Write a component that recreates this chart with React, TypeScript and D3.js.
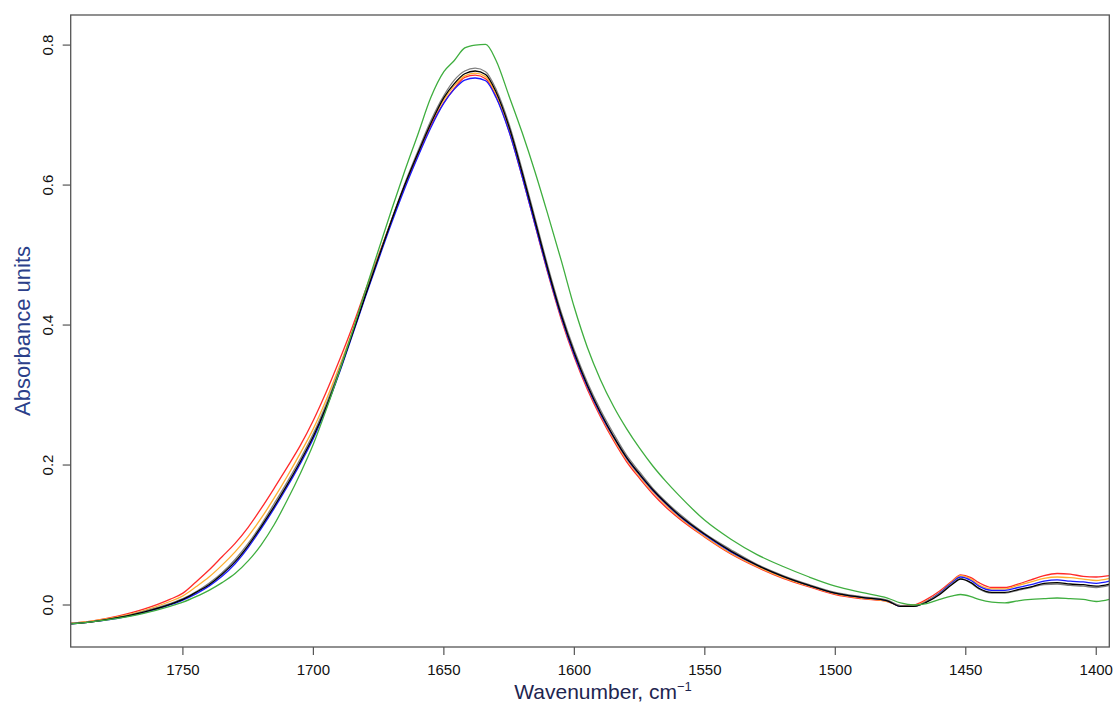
import React from "react";
import * as d3 from "d3";

const wavenumbers = [1793,1785,1775,1765,1755,1750,1745,1740,1735,1730,1725,1720,1715,1710,1705,1700,1695,1690,1685,1680,1675,1670,1665,1660,1655,1650,1646,1642,1638,1634,1630,1625,1620,1615,1610,1605,1600,1595,1590,1585,1580,1575,1570,1565,1560,1550,1540,1530,1520,1510,1500,1490,1480,1475,1470,1465,1460,1455,1452,1448,1445,1440,1435,1430,1425,1420,1415,1410,1405,1400,1395];

const redSeries = [
  -0.026,-0.023,-0.016,-0.006,0.008,
  0.017,0.033,0.050,0.069,0.088,
  0.111,0.138,0.167,0.197,0.228,
  0.264,0.305,0.350,0.398,0.450,
  0.500,0.550,0.598,0.642,0.685,
  0.718,0.738,0.754,0.757,0.752,
  0.727,0.677,0.612,0.542,0.472,
  0.408,0.354,0.308,0.269,0.235,
  0.205,0.181,0.159,0.140,0.124,
  0.097,0.073,0.054,0.038,0.026,
  0.015,0.009,0.005,-0.001,0.000,
  0.008,0.020,0.035,0.043,0.039,
  0.032,0.025,0.025,0.030,0.036,
  0.042,0.045,0.044,0.041,0.040,
  0.042];

const orangeSeries = [
  -0.026,-0.023,-0.017,-0.008,0.005,
  0.013,0.026,0.040,0.057,0.076,
  0.098,0.124,0.153,0.184,0.217,
  0.252,0.294,0.341,0.392,0.446,
  0.499,0.551,0.600,0.645,0.688,
  0.722,0.742,0.756,0.760,0.755,
  0.730,0.680,0.615,0.545,0.475,
  0.411,0.357,0.311,0.272,0.238,
  0.208,0.184,0.162,0.143,0.126,
  0.098,0.074,0.055,0.039,0.027,
  0.016,0.010,0.005,-0.002,-0.001,
  0.006,0.018,0.034,0.042,0.037,
  0.029,0.023,0.023,0.028,0.033,
  0.038,0.040,0.039,0.037,0.035,
  0.038];

const blueSeries = [
  -0.027,-0.024,-0.019,-0.011,0.000,
  0.007,0.016,0.027,0.041,0.059,
  0.082,0.109,0.138,0.169,0.202,
  0.238,0.282,0.332,0.386,0.441,
  0.494,0.546,0.595,0.640,0.682,
  0.717,0.737,0.750,0.753,0.749,
  0.725,0.676,0.612,0.543,0.474,
  0.411,0.357,0.312,0.273,0.240,
  0.210,0.186,0.164,0.145,0.128,
  0.100,0.076,0.057,0.041,0.028,
  0.017,0.011,0.006,-0.002,-0.002,
  0.005,0.017,0.033,0.040,0.035,
  0.027,0.021,0.021,0.025,0.029,
  0.034,0.036,0.034,0.033,0.031,
  0.034];

const graySeries = [
  -0.026,-0.024,-0.018,-0.009,0.002,
  0.009,0.019,0.031,0.046,0.065,
  0.088,0.115,0.145,0.176,0.209,
  0.245,0.288,0.337,0.390,0.445,
  0.498,0.551,0.602,0.648,0.692,
  0.728,0.750,0.763,0.767,0.762,
  0.737,0.687,0.622,0.552,0.482,
  0.418,0.364,0.318,0.279,0.245,
  0.214,0.190,0.167,0.148,0.131,
  0.102,0.079,0.058,0.042,0.029,
  0.018,0.012,0.007,-0.001,-0.002,
  0.005,0.016,0.031,0.038,0.031,
  0.023,0.017,0.017,0.021,0.025,
  0.029,0.030,0.028,0.027,0.025,
  0.028];

const blackSeries = [
  -0.027,-0.024,-0.018,-0.010,0.001,
  0.008,0.018,0.029,0.044,0.062,
  0.085,0.112,0.141,0.172,0.205,
  0.241,0.284,0.334,0.388,0.443,
  0.497,0.550,0.600,0.645,0.688,
  0.725,0.745,0.759,0.763,0.758,
  0.733,0.683,0.618,0.548,0.478,
  0.414,0.360,0.314,0.275,0.241,
  0.211,0.187,0.165,0.146,0.129,
  0.101,0.077,0.057,0.041,0.028,
  0.017,0.011,0.006,-0.002,-0.002,
  0.004,0.015,0.030,0.037,0.032,
  0.024,0.018,0.018,0.022,0.026,
  0.031,0.032,0.030,0.029,0.027,
  0.030];

const greenSeries = [
  -0.027,-0.024,-0.019,-0.012,-0.002,
  0.004,0.012,0.021,0.032,0.045,
  0.063,0.086,0.115,0.150,0.188,
  0.230,0.280,0.334,0.391,0.450,
  0.508,0.565,0.620,0.672,0.725,
  0.762,0.778,0.796,0.800,0.801,
  0.778,0.727,0.675,0.618,0.556,
  0.492,0.425,0.368,0.322,0.284,
  0.252,0.224,0.199,0.177,0.157,
  0.121,0.094,0.072,0.055,0.040,
  0.027,0.018,0.010,0.003,0.000,
  0.002,0.008,0.013,0.015,0.012,
  0.008,0.004,0.003,0.006,0.008,
  0.009,0.010,0.009,0.008,0.005,
  0.008];

const seriesList = [
  { name: "red", color: "#ff2a2a", values: redSeries },
  { name: "orange", color: "#ffae2e", values: orangeSeries },
  { name: "blue", color: "#1a1aff", values: blueSeries },
  { name: "gray", color: "#808080", values: graySeries },
  { name: "black", color: "#000000", values: blackSeries },
  { name: "green", color: "#3fae3f", values: greenSeries },
];

const xTicks = [1750, 1700, 1650, 1600, 1550, 1500, 1450, 1400];
const yTicks = [0, 0.2, 0.4, 0.6, 0.8];
const yTickLabels = ["0.0", "0.2", "0.4", "0.6", "0.8"];

const W = 1116;
const H = 707;
const left = 70.7;
const right = 1109.3;
const top = 15;
const bottom = 647;

export default function App() {
  const x = d3.scaleLinear().domain([1793, 1395]).range([left, right]);
  const y = d3.scaleLinear().domain([-0.06, 0.843]).range([bottom, top]);
  const line = d3
    .line<number>()
    .x((_, i) => x(wavenumbers[i]))
    .y((d) => y(d))
    .curve(d3.curveMonotoneX);

  const font = "Arial, 'Liberation Sans', Helvetica, sans-serif";

  return (
    <svg
      width={W}
      height={H}
      style={{ position: "absolute", left: 0, top: 0, background: "#fff" }}
      fontFamily={font}
    >
      <rect x={0} y={0} width={W} height={H} fill="#fff" />
      <defs>
        <clipPath id="plotclip">
          <rect x={left} y={top} width={right - left} height={bottom - top} />
        </clipPath>
      </defs>
      <g clipPath="url(#plotclip)">
        {seriesList.map((s) => (
          <path
            key={s.name}
            d={line(s.values) || ""}
            fill="none"
            stroke={s.color}
            strokeWidth={1.3}
            strokeLinejoin="round"
          />
        ))}
      </g>
      <rect
        x={left}
        y={top}
        width={right - left}
        height={bottom - top}
        fill="none"
        stroke="#555"
        strokeWidth={1.3}
      />
      {xTicks.map((t) => (
        <g key={t}>
          <line x1={x(t)} x2={x(t)} y1={bottom} y2={bottom + 8} stroke="#555" strokeWidth={1.2} />
          <text x={x(t)} y={675} textAnchor="middle" fontSize={15} fill="#111">
            {t}
          </text>
        </g>
      ))}
      {yTicks.map((t, i) => (
        <g key={t}>
          <line x1={left - 8} x2={left} y1={y(t)} y2={y(t)} stroke="#555" strokeWidth={1.2} />
          <text
            transform={`translate(53,${y(t)}) rotate(-90)`}
            textAnchor="middle"
            fontSize={15}
            fill="#111"
          >
            {yTickLabels[i]}
          </text>
        </g>
      ))}
      <text x={603} y={699} textAnchor="middle" fontSize={21} fill="#1e2550">
        Wavenumber, cm
        <tspan dy={-8} fontSize={13}>−1</tspan>
      </text>
      <text
        transform={`translate(30,${(top + bottom) / 2}) rotate(-90)`}
        textAnchor="middle"
        fontSize={22}
        fill="#2b3f8a"
      >
        Absorbance units
      </text>
    </svg>
  );
}
